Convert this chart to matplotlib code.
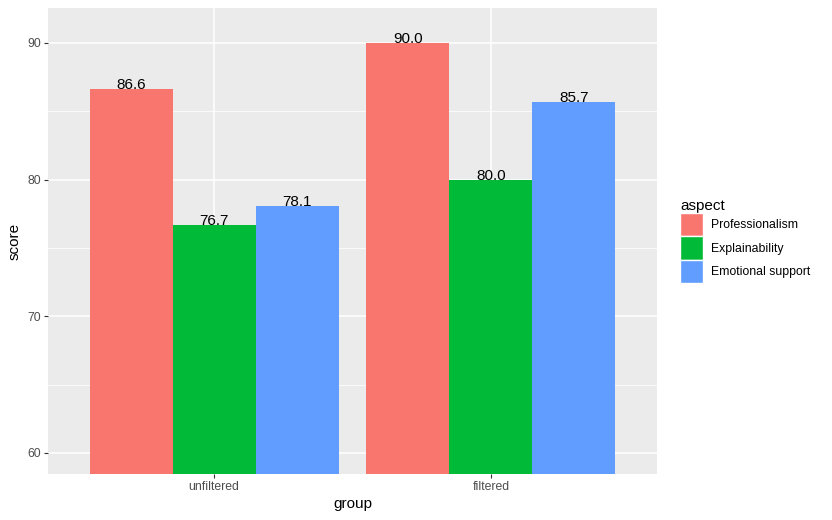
import numpy as np
import matplotlib
matplotlib.use("Agg")
import matplotlib.pyplot as plt
from matplotlib.patches import Patch

groups = ["unfiltered", "filtered"]
aspects = ["Professionalism", "Explainability", "Emotional support"]
professionalism = [86.6, 90.0]
explainability = [76.7, 80.0]
emotional = [78.1, 85.7]
colors = ["#F8766D", "#00BA38", "#619CFF"]

plt.rcParams["font.family"] = ["Liberation Sans", "DejaVu Sans"]

fig = plt.figure(figsize=(8.32, 5.2), dpi=100)
ax = fig.add_axes([48 / 832, 46 / 520, 609 / 832, 466 / 520])
ax.set_facecolor("#EBEBEB")

x = np.arange(1, len(groups) + 1)
w = 0.3
series = [professionalism, explainability, emotional]
for i, (vals, c) in enumerate(zip(series, colors)):
    xs = x + (i - 1) * w
    ax.bar(xs, vals, width=w, color=c, zorder=3)
    for xi, v in zip(xs, vals):
        ax.text(xi, v, f"{v:.1f}", ha="center", va="baseline", fontsize=11, color="black", zorder=4)

ax.set_xlim(0.4, 2.6)
ax.set_ylim(58.46, 92.56)
ax.set_yticks([60, 70, 80, 90])
ax.set_yticks([65, 75, 85], minor=True)
ax.set_xticks(x)
ax.set_xticklabels(groups)
ax.grid(True, which="major", color="white", linewidth=1.1, zorder=0)
ax.grid(True, which="minor", axis="y", color="white", linewidth=0.55, zorder=0)
for s in ax.spines.values():
    s.set_visible(False)
ax.tick_params(which="major", length=3, width=0.8, color="#333333", labelcolor="#4D4D4D", labelsize=8.8, pad=2)
ax.tick_params(which="minor", length=0)
ax.set_xlabel("group", fontsize=11, labelpad=3)
ax.set_ylabel("score", fontsize=11, labelpad=4)

handles = [Patch(facecolor=c, edgecolor="white", label=a) for a, c in zip(aspects, colors)]
leg = ax.legend(handles=handles, title="aspect", loc="center left", bbox_to_anchor=(1.03, 0.5),
                frameon=False, fontsize=8.8, title_fontsize=11, handlelength=1.9, handleheight=2.6,
                handletextpad=0.65, labelspacing=0.0, borderaxespad=0)
leg._legend_box.align = "left"

fig.savefig("out.png", dpi=100)
